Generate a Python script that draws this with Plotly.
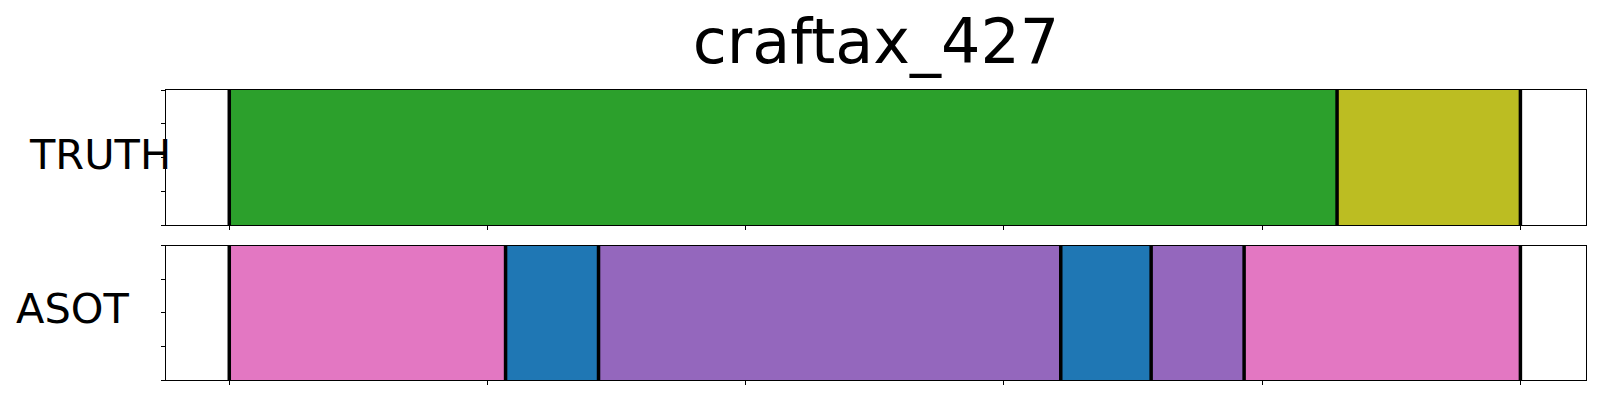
import plotly.graph_objects as go
from plotly.subplots import make_subplots

title = "craftax_427"
row_labels = ["TRUTH", "ASOT"]

truth_starts = [0, 429]
truth_ends = [429, 500]
truth_colors = ["#2ca02c", "#bcbd22"]

asot_starts = [0, 107, 143, 322, 357, 393]
asot_ends = [107, 143, 322, 357, 393, 500]
asot_colors = ["#e377c2", "#1f77b4", "#9467bd", "#1f77b4", "#9467bd", "#e377c2"]

x_ticks = [0, 100, 200, 300, 400, 500]
y_ticks = [0, 0.25, 0.5, 0.75, 1.0]

rows = [
    (truth_starts, truth_ends, truth_colors),
    (asot_starts, asot_ends, asot_colors),
]

W, H = 1600, 400
ml, mr, mt, mb = 166, 14, 90, 20
fig = make_subplots(rows=2, cols=1, shared_xaxes=False)

plot_h = H - mt - mb
top_dom = [(380 - 225.3) / plot_h, 1.0]
bot_dom = [0.0, (380 - 245.7) / plot_h]

for i, (starts, ends, colors) in enumerate(rows, start=1):
    fig.add_trace(
        go.Bar(
            y=[0.5] * len(starts),
            x=[e - s for s, e in zip(starts, ends)],
            base=starts,
            orientation="h",
            width=1.0,
            marker=dict(color=colors, line=dict(width=0)),
            showlegend=False,
            hoverinfo="skip",
        ),
        row=i, col=1,
    )
    bounds = sorted(set(starts + ends))
    lx, ly = [], []
    for b in bounds:
        lx += [b, b, None]
        ly += [0, 1, None]
    fig.add_trace(
        go.Scatter(
            x=lx, y=ly, mode="lines",
            line=dict(color="black", width=3.5),
            showlegend=False, hoverinfo="skip",
        ),
        row=i, col=1,
    )

axis_common = dict(
    showline=True, linecolor="black", linewidth=1, mirror=True,
    ticks="outside", ticklen=4, tickwidth=1, tickcolor="black",
    showticklabels=False, showgrid=False, zeroline=False,
)
for i in (1, 2):
    fig.update_xaxes(range=[-24.5, 525.4], tickvals=x_ticks, row=i, col=1, **axis_common)
    fig.update_yaxes(range=[0, 1], tickvals=y_ticks, row=i, col=1, **axis_common)

fig.update_layout(
    yaxis=dict(domain=top_dom),
    yaxis2=dict(domain=bot_dom),
    barmode="overlay",
    bargap=0,
    width=W, height=H,
    margin=dict(l=ml, r=mr, t=mt, b=mb, pad=0),
    plot_bgcolor="white", paper_bgcolor="white",
    font=dict(family="DejaVu Sans", color="black"),
    title=dict(
        text=title, x=(ml + (W - ml - mr) / 2) / W, xanchor="center",
        y=1 - 63 / H, yanchor="bottom",
        font=dict(size=62, family="DejaVu Sans", color="black"),
        pad=dict(t=0, b=0),
    ),
)

label_pos = [
    ("TRUTH", "y domain", 27.5, -3),
    ("ASOT", "y2 domain", 14.5, -4),
]
for text, yref, left_px, yshift in label_pos:
    fig.add_annotation(
        text=text, xref="paper", x=0, xanchor="left", xshift=left_px - ml,
        yref=yref, y=0.5, yanchor="middle", yshift=-yshift,
        showarrow=False, borderpad=0,
        font=dict(size=41.5, family="DejaVu Sans", color="black"),
    )

fig.write_html(
    "out.html",
    config={"displayModeBar": False},
    post_script="document.body.style.margin='0';document.body.style.overflow='hidden';",
)
